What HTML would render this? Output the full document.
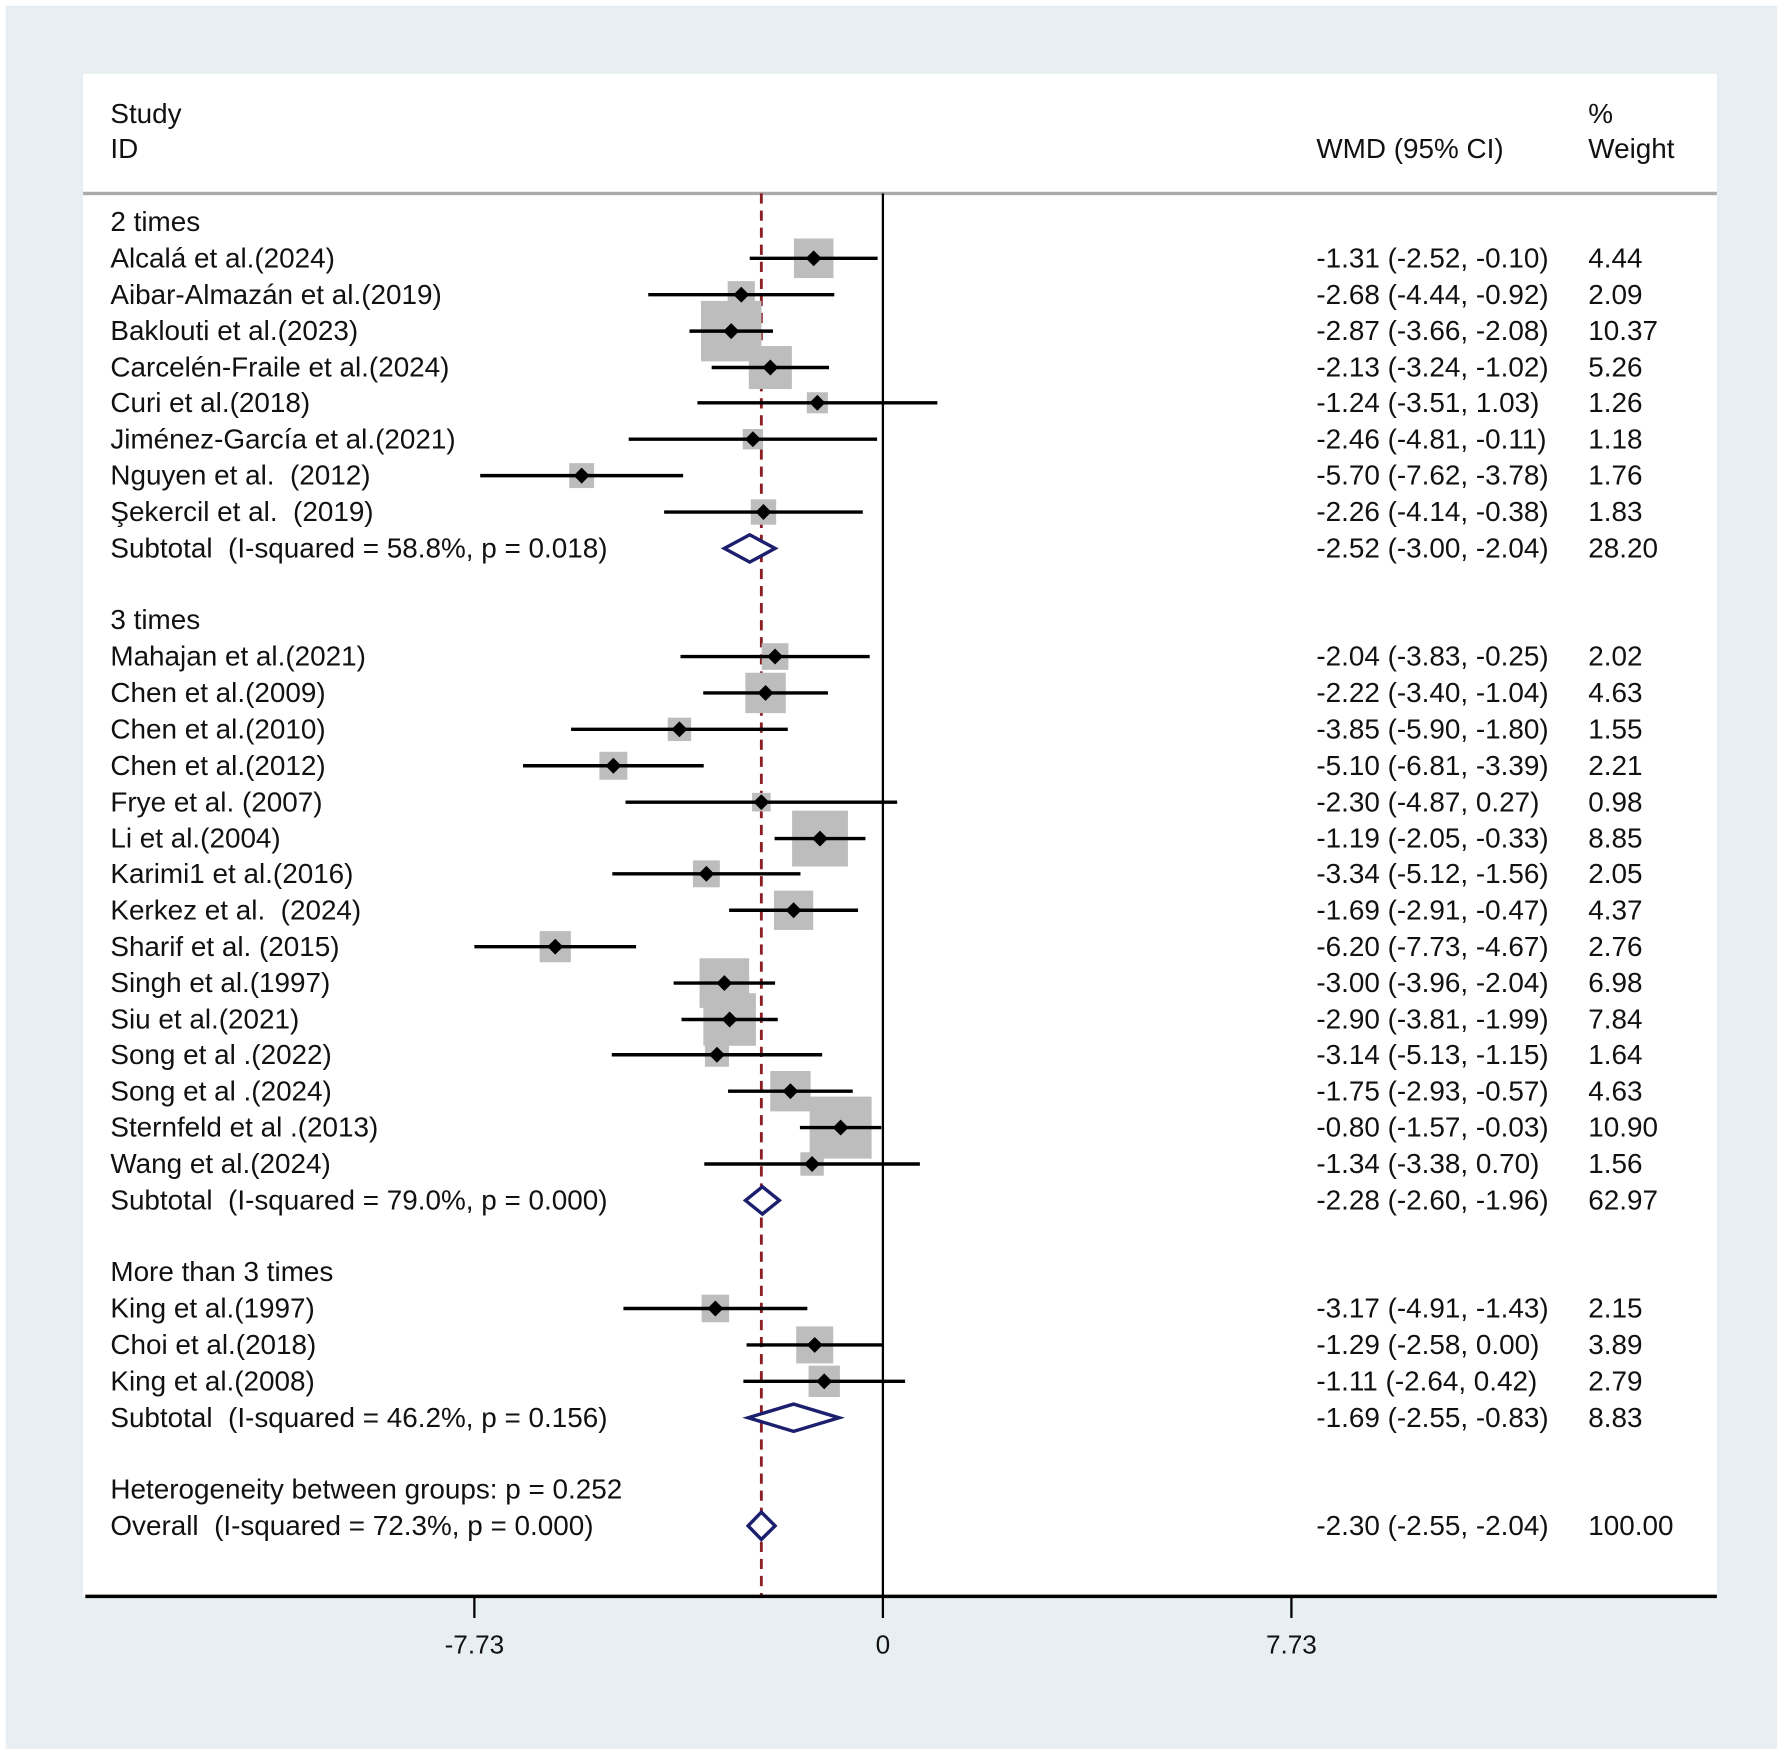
<!DOCTYPE html>
<html><head><meta charset="utf-8"><style>
html,body{margin:0;padding:0;background:#fff;}
svg{display:block;font-family:"Liberation Sans",Arial,sans-serif;}
text{white-space:pre;}
</style></head><body>
<svg id="chart" width="1784" height="1756" viewBox="0 0 1568 1543.3" preserveAspectRatio="none" xmlns="http://www.w3.org/2000/svg" xml:space="preserve">
<rect x="5" y="5" width="1557" height="1532" fill="#e8eff2"/>
<rect x="73" y="65" width="1436" height="1338" fill="#fff"/>
<line x1="73" y1="170" x2="1509" y2="170" stroke="#aaa" stroke-width="3"/>
<g font-size="24.5" fill="#111">
<text x="97" y="108">Study</text>
<text x="97" y="139">ID</text>
<text x="1157" y="139">WMD (95% CI)</text>
<text x="1396" y="108">%</text>
<text x="1396" y="139">Weight</text>
</g>
<g id="plot"></g>
</svg>
<script>
const rowTypes = ["h","s","s","s","s","s","s","s","s","t","h","s","s","s","s","s","s","s","s","s","s","s","s","s","s","s","t","h","s","s","s","t","g","o"];
const labels = ["2 times","Alcalá et al.(2024)","Aibar-Almazán et al.(2019)","Baklouti et al.(2023)","Carcelén-Fraile et al.(2024)","Curi et al.(2018)","Jiménez-García et al.(2021)","Nguyen et al.  (2012)","Şekercil et al.  (2019)","Subtotal  (I-squared = 58.8%, p = 0.018)","3 times","Mahajan et al.(2021)","Chen et al.(2009)","Chen et al.(2010)","Chen et al.(2012)","Frye et al. (2007)","Li et al.(2004)","Karimi1 et al.(2016)","Kerkez et al.  (2024)","Sharif et al. (2015)","Singh et al.(1997)","Siu et al.(2021)","Song et al .(2022)","Song et al .(2024)","Sternfeld et al .(2013)","Wang et al.(2024)","Subtotal  (I-squared = 79.0%, p = 0.000)","More than 3 times","King et al.(1997)","Choi et al.(2018)","King et al.(2008)","Subtotal  (I-squared = 46.2%, p = 0.156)","Heterogeneity between groups: p = 0.252","Overall  (I-squared = 72.3%, p = 0.000)"];
const rowY = [195,227,259,291,323,354,386,418,450,482,545,577,609,641,673,705,737,768,800,832,864,896,927,959,991,1023,1055,1118,1150,1182,1214,1246,1309,1341];
const est = [null,-1.31,-2.68,-2.87,-2.13,-1.24,-2.46,-5.70,-2.26,-2.52,null,-2.04,-2.22,-3.85,-5.10,-2.30,-1.19,-3.34,-1.69,-6.20,-3.00,-2.90,-3.14,-1.75,-0.80,-1.34,-2.28,null,-3.17,-1.29,-1.11,-1.69,null,-2.30];
const lo = [null,-2.52,-4.44,-3.66,-3.24,-3.51,-4.81,-7.62,-4.14,-3.00,null,-3.83,-3.40,-5.90,-6.81,-4.87,-2.05,-5.12,-2.91,-7.73,-3.96,-3.81,-5.13,-2.93,-1.57,-3.38,-2.60,null,-4.91,-2.58,-2.64,-2.55,null,-2.55];
const hi = [null,-0.10,-0.92,-2.08,-1.02,1.03,-0.11,-3.78,-0.38,-2.04,null,-0.25,-1.04,-1.80,-3.39,0.27,-0.33,-1.56,-0.47,-4.67,-2.04,-1.99,-1.15,-0.57,-0.03,0.70,-1.96,null,-1.43,0.00,0.42,-0.83,null,-2.04];
const weights = [null,4.44,2.09,10.37,5.26,1.26,1.18,1.76,1.83,28.20,null,2.02,4.63,1.55,2.21,0.98,8.85,2.05,4.37,2.76,6.98,7.84,1.64,4.63,10.90,1.56,62.97,null,2.15,3.89,2.79,8.83,null,100.00];
const tickVals = [-7.73, 0, 7.73];
const tickLabels = ["-7.73","0","7.73"];
const overallEst = -2.30;

const NS = "http://www.w3.org/2000/svg";
const g = document.getElementById("plot");
const x = v => 776 + v * 46.45;
function mk(tag, attrs){ const e=document.createElementNS(NS,tag); for(const k in attrs) e.setAttribute(k,attrs[k]); g.appendChild(e); return e; }

let zl = mk("line",{x1:x(0),y1:170,x2:x(0),y2:1403,stroke:"#000","stroke-width":2});


let ol = mk("line",{x1:x(overallEst),y1:170,x2:x(overallEst),y2:1403,stroke:"#8b1f24","stroke-width":2.5,"stroke-dasharray":"9,6"});



rowTypes.forEach((t,i)=>{
  if(t!=="s") return;
  const s = Math.sqrt(weights[i])*16.5;
  const b = mk("rect",{x:x(est[i])-s/2,y:rowY[i]-s/2,width:s,height:s,fill:"#bdbdbd"});
  
  
});
rowTypes.forEach((t,i)=>{
  const y = rowY[i];
  const lab = mk("text",{x:97,y:y+8,"font-size":24.5,fill:"#111"});
  lab.textContent = labels[i];
  
  
  if(est[i]===null) return;
  if(t==="s"){
    const l = mk("line",{x1:x(lo[i]),y1:y,x2:x(hi[i]),y2:y,stroke:"#000","stroke-width":3});
    
    
    const cx=x(est[i]), d=7;
    const p = mk("polygon",{points:`${cx-d},${y} ${cx},${y-d} ${cx+d},${y} ${cx},${y+d}`,fill:"#000"});
    
    
  } else {
    const h=12;
    const dm = mk("polygon",{points:`${x(lo[i])},${y} ${x(est[i])},${y-h} ${x(hi[i])},${y} ${x(est[i])},${y+h}`,fill:"#fff",stroke:"#1c1f6e","stroke-width":3});
    
    
  }
  const et = mk("text",{x:1157,y:y+8,"font-size":24.5,fill:"#111"});
  et.textContent = `${est[i].toFixed(2)} (${lo[i].toFixed(2)}, ${hi[i].toFixed(2)})`;
  
  
  const wt = mk("text",{x:1396,y:y+8,"font-size":24.5,fill:"#111"});
  wt.textContent = weights[i].toFixed(2);
  
  
});

const ax = mk("line",{x1:75,y1:1403,x2:1509,y2:1403,stroke:"#000","stroke-width":3});


tickVals.forEach((v,i)=>{
  const tk = mk("line",{x1:x(v),y1:1403,x2:x(v),y2:1422,stroke:"#000","stroke-width":2});
  
  
  const tl = mk("text",{x:x(v),y:1453,"font-size":23,"text-anchor":"middle",fill:"#111"});
  tl.textContent = tickLabels[i];
  
  
});
</script>
</body></html>
